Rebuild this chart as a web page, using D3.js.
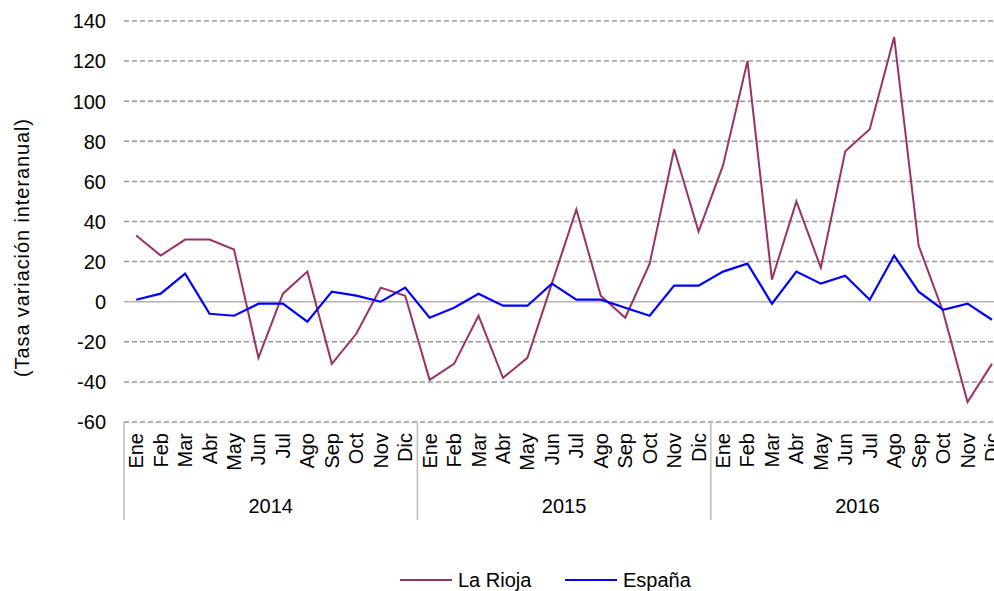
<!DOCTYPE html>
<html>
<head>
<meta charset="utf-8">
<script src="https://cdn.jsdelivr.net/npm/d3@7"></script>
<style>
  body { margin: 0; background: #fff; }
  svg { display: block; }
  text { font-family: "Liberation Sans", Arial, sans-serif; fill: #000; }
</style>
</head>
<body>
<svg id="chart" width="994" height="591"></svg>
<script>
"use strict";

// data
var years = ["2014", "2015", "2016"];
var months = ["Ene", "Feb", "Mar", "Abr", "May", "Jun", "Jul", "Ago", "Sep", "Oct", "Nov", "Dic"];
var yTicks = [-60, -40, -20, 0, 20, 40, 60, 80, 100, 120, 140];

var laRioja = [33, 23, 31, 31, 26, -28, 4, 15, -31, -16, 7, 3,
               -39, -31, -7, -38, -28, 9, 46, 3, -8, 19, 76, 35,
               68, 120, 11, 50, 17, 75, 86, 132, 28, -5, -50, -31];
var espana = [1, 4, 14, -6, -7, -1, -1, -10, 5, 3, 0, 7,
              -8, -3, 4, -2, -2, 9, 1, 1, -3, -7, 8, 8,
              15, 19, -1, 15, 9, 13, 1, 23, 5, -4, -1, -9];

var seriesNames = ["La Rioja", "España"];
var seriesColors = ["#993366", "#0000ff"];

// build category list (year, month)
var cats = [];
years.forEach(function(y) {
  months.forEach(function(m) { cats.push(y + "-" + m); });
});

var svg = d3.select("#chart");

var left = 124, bandW = 24.45;
var x = d3.scaleBand()
  .domain(cats)
  .range([left, left + bandW * cats.length]);

var y = d3.scaleLinear()
  .domain([-60, 140])
  .range([422, 21]);

/*** gridlines ***/
svg.append("g").selectAll("line")
  .data(yTicks)
  .enter()
  .append("line")
  .attr("x1", left)
  .attr("x2", 994)
  .attr("y1", function(d) { return y(d); })
  .attr("y2", function(d) { return y(d); })
  .attr("stroke", function(d) { return d == 0 ? "#b3b3b3" : "#969696"; })
  .attr("stroke-width", 1.5)
  .attr("stroke-dasharray", function(d) { return d == 0 ? null : "5,3"; });

/*** y axis labels ***/
// plain hyphen for negatives, like the original
var yAxis = d3.axisLeft(y).tickValues(yTicks).tickSize(0).tickPadding(0)
  .tickFormat(function(d) { return String(d); });
var yg = svg.append("g")
  .attr("transform", "translate(106,0)")
  .call(yAxis);
yg.select(".domain").remove();
yg.selectAll("text")
  .attr("font-size", "20px")
  .attr("font-family", "Liberation Sans, Arial, sans-serif")
  .attr("fill", "#000")
  .attr("dy", "0.34em");

// y axis title
svg.append("text")
  .attr("transform", "translate(29,248) rotate(-90)")
  .attr("text-anchor", "middle")
  .attr("font-size", "20px")
  .attr("textLength", 258)
  .text("(Tasa variación interanual)");

/*** x axis: months ***/
svg.append("g").selectAll("text")
  .data(cats)
  .enter()
  .append("text")
  .attr("transform", function(d) {
    return "translate(" + (x(d) + x.bandwidth() / 2 + 7) + ",433) rotate(-90)";
  })
  .attr("text-anchor", "end")
  .attr("font-size", "20px")
  .text(function(d) { return d.split("-")[1]; });

// year separators
var sepX = years.map(function(yr) { return x(yr + "-Ene"); });
svg.append("g").selectAll("line")
  .data(sepX)
  .enter()
  .append("line")
  .attr("x1", function(d) { return d; })
  .attr("x2", function(d) { return d; })
  .attr("y1", 422)
  .attr("y2", 520)
  .attr("stroke", "#bdbdbd")
  .attr("stroke-width", 1.5);

// year labels
svg.append("g").selectAll("text")
  .data(years)
  .enter()
  .append("text")
  .attr("x", function(yr) { return x(yr + "-Ene") + bandW * 6; })
  .attr("y", 513)
  .attr("text-anchor", "middle")
  .attr("font-size", "20px")
  .text(function(d) { return d; });

/*** lines ***/
var line = d3.line()
  .x(function(d, i) { return x(cats[i]) + x.bandwidth() / 2; })
  .y(function(d) { return y(d); });

[laRioja, espana].forEach(function(s, k) {
  svg.append("path")
    .datum(s)
    .attr("fill", "none")
    .attr("stroke", seriesColors[k])
    .attr("stroke-width", k == 0 ? 2 : 2.2)
    .attr("stroke-linejoin", "miter")
    .attr("d", line);
});

/*** legend ***/
var legendX = [400, 565];
var leg = svg.append("g").selectAll("g")
  .data(seriesNames)
  .enter()
  .append("g")
  .attr("transform", function(d, i) { return "translate(" + legendX[i] + ",580)"; });

leg.append("line")
  .attr("x1", 0)
  .attr("x2", 52)
  .attr("stroke", function(d, i) { return seriesColors[i]; })
  .attr("stroke-width", 2);

leg.append("text")
  .attr("x", 58)
  .attr("y", 7)
  .attr("font-size", "20px")
  .text(function(d) { return d; });
</script>
</body>
</html>
